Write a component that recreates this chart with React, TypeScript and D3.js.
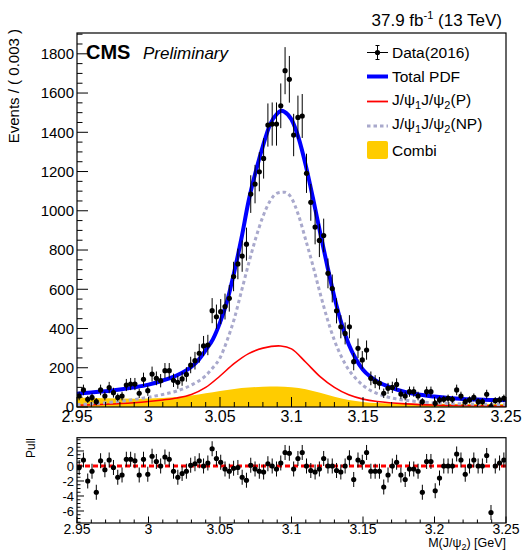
import React from "react";
import * as d3 from "d3";

// ---------- data ----------
const X_MIN = 2.95;
const X_MAX = 3.25;
const BIN_WIDTH = 0.003;

const dataCounts = [
  56, 87, 39, 49, 27, 87, 56, 99, 73, 49,
  56, 112, 117, 117, 70, 141, 83, 168, 146, 134,
  185, 185, 136, 126, 143, 166, 214, 236, 274, 311,
  316, 491, 460, 486, 512, 554, 665, 729, 769, 830,
  1085, 1136, 1199, 1267, 1437, 1442, 1442, 1535, 1714, 1670,
  1386, 1476, 1483, 1191, 1043, 917, 849, 874, 681, 604,
  490, 409, 375, 409, 231, 299, 240, 290, 146, 129,
  121, 70, 95, 100, 115, 66, 56, 78, 78, 56,
  27, 78, 78, 19, 36, 39, 44, 39, 87, 56,
  27, 36, 49, 27, 27, 65, 2, 32, 36, 44,
];

const dataErrors = [
  22, 27, 18, 20, 18, 27, 22, 29, 25, 20,
  22, 31, 31, 31, 24, 34, 26, 38, 35, 34,
  39, 39, 34, 33, 35, 37, 42, 45, 48, 51,
  52, 64, 62, 64, 66, 68, 75, 78, 80, 84,
  96, 98, 100, 103, 110, 110, 110, 114, 120, 119,
  108, 111, 112, 100, 94, 88, 85, 86, 76, 71,
  64, 59, 56, 59, 44, 50, 45, 49, 35, 33,
  32, 24, 28, 29, 31, 24, 22, 26, 26, 22,
  18, 26, 26, 18, 18, 18, 19, 18, 27, 22,
  18, 18, 20, 18, 18, 23, 20, 18, 18, 19,
];

const pullValues = [
  -0.2, 0.8, -2.0, -0.7, -3.5, 0.7, -0.5, 0.8, -0.2, -1.5,
  -1.2, 0.9, 0.9, 0.7, -1.2, 0.9, -1.1, 1.3, 0.6, 0.0,
  1.2, 0.9, -0.7, -1.5, -1.0, -0.7, 0.1, 0.3, 0.7, 0.0,
  0.4, 2.3, 1.0, 0.5, -0.4, -0.7, -0.3, -0.2, -1.5, -1.9,
  0.1, -0.4, -0.7, -0.8, 0.3, 0.0, -0.4, 0.4, 1.8, 1.7,
  -0.4, 1.0, 1.8, 0.0, -0.6, -0.8, -0.4, 1.0, 0.0, 0.0,
  -0.6, -0.8, 0.0, 1.1, -1.8, 0.8, 0.5, 1.8, -0.7, -0.7,
  -0.7, -2.8, -1.2, 0.0, 0.5, -1.2, -1.8, -0.4, -0.4, -0.7,
  -3.5, 0.6, 0.6, -3.3, -1.6, 0.0, 0.0, 0.0, 1.6, 0.8,
  -1.1, 0.0, 0.8, 0.0, 0.0, 1.4, -6.2, 0.0, 0.4, 0.8,
];

// fitted curves: [mass, events]
const totalPdf = [
  [2.95, 68], [2.96, 74], [2.97, 80], [2.98, 89], [2.99, 100], [3.0, 114],
  [3.01, 135], [3.02, 162], [3.03, 205], [3.035, 240], [3.04, 290], [3.045, 345],
  [3.05, 430], [3.055, 540], [3.06, 690], [3.065, 860], [3.07, 1050], [3.075, 1200],
  [3.08, 1330], [3.085, 1440], [3.09, 1495], [3.093, 1510], [3.095, 1505], [3.1, 1465],
  [3.105, 1370], [3.11, 1230], [3.115, 1065], [3.12, 890], [3.125, 720], [3.13, 560],
  [3.135, 425], [3.14, 320], [3.145, 245], [3.15, 190], [3.155, 155], [3.16, 130],
  [3.17, 98], [3.18, 76], [3.19, 62], [3.2, 53], [3.21, 46], [3.22, 41],
  [3.23, 38], [3.24, 36], [3.25, 35],
];

const promptPdf = [
  [2.95, 9], [2.97, 14], [2.99, 22], [3.0, 28], [3.01, 36], [3.02, 46],
  [3.03, 64], [3.04, 100], [3.05, 158], [3.06, 222], [3.07, 272], [3.08, 300],
  [3.0925, 311], [3.1, 296], [3.11, 228], [3.12, 155], [3.13, 100],
  [3.14, 62], [3.15, 40], [3.16, 28], [3.18, 16], [3.2, 10], [3.25, 5],
];

const nonPromptPdf = [
  [2.95, 12], [2.96, 16], [2.97, 22], [2.98, 29], [2.99, 38], [3.0, 50],
  [3.01, 64], [3.02, 82], [3.03, 112], [3.04, 160], [3.045, 200], [3.05, 250],
  [3.055, 340], [3.06, 450], [3.065, 590], [3.07, 730], [3.075, 860], [3.08, 970],
  [3.085, 1050], [3.09, 1090], [3.095, 1095], [3.1, 1065], [3.105, 975], [3.11, 850],
  [3.115, 720], [3.12, 580], [3.125, 450], [3.13, 340], [3.135, 255], [3.14, 190],
  [3.145, 145], [3.15, 110], [3.16, 68], [3.17, 46], [3.18, 34], [3.19, 26],
  [3.2, 21], [3.22, 16], [3.25, 12],
];

const combiPdf = [
  [2.95, 48], [2.97, 44], [2.99, 42], [3.0, 43], [3.01, 46], [3.02, 51],
  [3.03, 59], [3.04, 70], [3.05, 82], [3.06, 92], [3.07, 99], [3.08, 103],
  [3.09, 104], [3.1, 101], [3.11, 91], [3.12, 72], [3.13, 52], [3.14, 36],
  [3.15, 26], [3.16, 20], [3.18, 17], [3.2, 16], [3.25, 15],
];

const xTickValues = [2.95, 3.0, 3.05, 3.1, 3.15, 3.2, 3.25];
const xTickLabels = ["2.95", "3", "3.05", "3.1", "3.15", "3.2", "3.25"];
const yTickValues = [0, 200, 400, 600, 800, 1000, 1200, 1400, 1600, 1800];
const pullTickValues = [-6, -4, -2, 0, 2];

// ---------- layout ----------
const W = 523;
const H = 550;
const L = 77;
const R = 506;
const MAIN_TOP = 33;
const MAIN_BOT = 407;
const PULL_TOP = 437.7;
const PULL_BOT = 523;
const FONT = "'Liberation Sans', Arial, Helvetica, sans-serif";

export default function App() {
  const x = d3.scaleLinear().domain([X_MIN, X_MAX]).range([L, R]);
  const y = d3.scaleLinear().domain([0, 1906]).range([MAIN_BOT, MAIN_TOP]);
  const yp = d3.scaleLinear().domain([-7.6, 3.77]).range([PULL_BOT, PULL_TOP]);

  const centers = dataCounts.map((_, i) => X_MIN + (i + 0.5) * BIN_WIDTH);

  const line = d3
    .line<number[]>()
    .x((d) => x(d[0]))
    .y((d) => y(d[1]))
    .curve(d3.curveMonotoneX);
  const smoothLine = d3
    .line<number[]>()
    .x((d) => x(d[0]))
    .y((d) => y(d[1]))
    .curve(d3.curveCatmullRom.alpha(0.5));
  const area = d3
    .area<number[]>()
    .x((d) => x(d[0]))
    .y0(y(0))
    .y1((d) => y(d[1]))
    .curve(d3.curveMonotoneX);

  const xMinor = d3.range(0, 31).map((k) => X_MIN + k * 0.01);
  const yMinor = d3.range(0, 39).map((k) => k * 50);
  const pMinor = d3.range(-15, 8).map((k) => k * 0.5);

  const legendX1 = 367;
  const legendX2 = 388;
  const legendText = 392;
  const legendRows = [52.5, 76.5, 101.5, 126, 150];
  const lfs = 15.5;
  const sub = 11;

  return (
    <svg
      width={W}
      height={H}
      style={{ position: "absolute", left: 0, top: 0, background: "#fff" }}
      fontFamily={FONT}
    >
      <defs>
        <clipPath id="mainClip">
          <rect x={L} y={MAIN_TOP} width={R - L} height={MAIN_BOT - MAIN_TOP} />
        </clipPath>
        <clipPath id="pullClip">
          <rect x={L} y={PULL_TOP} width={R - L} height={PULL_BOT - PULL_TOP} />
        </clipPath>
      </defs>
      <rect x={0} y={0} width={W} height={H} fill="#fff" />

      {/* header */}
      <text x={502} y={26} fontSize={17} textAnchor="end" fill="#000">
        37.9 fb
        <tspan fontSize={11} dy={-7}>-1</tspan>
        <tspan dy={7}> (13 TeV)</tspan>
      </text>

      {/* main plot */}
      <g clipPath="url(#mainClip)">
        <path d={area(combiPdf) || ""} fill="#ffcc00" stroke="none" />
        <path d={smoothLine(promptPdf) || ""} fill="none" stroke="#ff0000" strokeWidth={1.6} />
        <path
          d={line(nonPromptPdf) || ""}
          fill="none"
          stroke="#a9a9cc"
          strokeWidth={3}
          strokeDasharray="3.5 3"
        />
        <path d={line(totalPdf) || ""} fill="none" stroke="#0000ff" strokeWidth={4} />
        {dataCounts.map((v, i) => (
          <g key={i}>
            <line
              x1={x(centers[i])}
              x2={x(centers[i])}
              y1={y(v - dataErrors[i])}
              y2={y(v + dataErrors[i])}
              stroke="#000"
              strokeWidth={1}
            />
            <circle cx={x(centers[i])} cy={y(v)} r={2.6} fill="#000" />
          </g>
        ))}
      </g>

      {/* main axes ticks */}
      {xMinor.map((t, k) => (
        <line
          key={"xm" + k}
          x1={x(t)}
          x2={x(t)}
          y1={MAIN_BOT}
          y2={MAIN_BOT - (k % 5 === 0 ? 10 : 5)}
          stroke="#000"
          strokeWidth={1}
        />
      ))}
      {yMinor.map((t, k) => (
        <line
          key={"ym" + k}
          x1={L}
          x2={L + (k % 4 === 0 ? 11 : 5.5)}
          y1={y(t)}
          y2={y(t)}
          stroke="#000"
          strokeWidth={1}
        />
      ))}
      <rect
        x={L}
        y={MAIN_TOP}
        width={R - L}
        height={MAIN_BOT - MAIN_TOP}
        fill="none"
        stroke="#000"
        strokeWidth={1.2}
      />
      {xTickValues.map((t, k) => (
        <text key={"xl" + k} x={x(t)} y={422} fontSize={16} textAnchor="middle" fill="#000">
          {xTickLabels[k]}
        </text>
      ))}
      {yTickValues.map((t, k) => (
        <text
          key={"yl" + k}
          x={74}
          y={y(t) + 5.3}
          fontSize={15}
          textAnchor="end"
          fill="#000"
        >
          {t}
        </text>
      ))}
      <text
        transform={`translate(19,29) rotate(-90)`}
        fontSize={15}
        textAnchor="end"
        fill="#000"
      >
        Events / ( 0.003 )
      </text>

      {/* CMS label */}
      <text x={86} y={59} fontSize={20} fontWeight="bold" fill="#000">
        CMS
      </text>
      <text x={143} y={59} fontSize={17} fontStyle="italic" fill="#000">
        Preliminary
      </text>

      {/* legend */}
      <g>
        <line x1={legendX1} x2={legendX2} y1={legendRows[0]} y2={legendRows[0]} stroke="#000" />
        <line x1={377.5} x2={377.5} y1={legendRows[0] - 7} y2={legendRows[0] + 7} stroke="#000" />
        <line x1={375.5} x2={379.5} y1={legendRows[0] - 7} y2={legendRows[0] - 7} stroke="#000" />
        <line x1={375.5} x2={379.5} y1={legendRows[0] + 7} y2={legendRows[0] + 7} stroke="#000" />
        <circle cx={377.5} cy={legendRows[0]} r={2.6} fill="#000" />
        <text x={legendText} y={legendRows[0] + 5.5} fontSize={lfs}>Data(2016)</text>

        <line x1={legendX1} x2={legendX2} y1={legendRows[1]} y2={legendRows[1]} stroke="#0000ff" strokeWidth={4} />
        <text x={legendText} y={legendRows[1] + 5.5} fontSize={lfs}>Total PDF</text>

        <line x1={legendX1} x2={legendX2} y1={legendRows[2]} y2={legendRows[2]} stroke="#ff0000" strokeWidth={1.8} />
        <text x={legendText} y={legendRows[2] + 3} fontSize={lfs}>
          J/ψ<tspan fontSize={sub} dy={4}>1</tspan>
          <tspan dy={-4}>J/ψ</tspan>
          <tspan fontSize={sub} dy={4}>2</tspan>
          <tspan dy={-4}>(P)</tspan>
        </text>

        <line
          x1={legendX1}
          x2={legendX2}
          y1={legendRows[3]}
          y2={legendRows[3]}
          stroke="#a9a9cc"
          strokeWidth={3}
          strokeDasharray="3.5 3"
        />
        <text x={legendText} y={legendRows[3] + 3} fontSize={lfs}>
          J/ψ<tspan fontSize={sub} dy={4}>1</tspan>
          <tspan dy={-4}>J/ψ</tspan>
          <tspan fontSize={sub} dy={4}>2</tspan>
          <tspan dy={-4}>(NP)</tspan>
        </text>

        <rect x={legendX1} y={legendRows[4] - 9} width={legendX2 - legendX1} height={18} rx={2} fill="#ffcc00" />
        <text x={legendText} y={legendRows[4] + 5.5} fontSize={lfs}>Combi</text>
      </g>

      {/* pull panel */}
      <g clipPath="url(#pullClip)">
        <line
          x1={L}
          x2={R}
          y1={yp(0)}
          y2={yp(0)}
          stroke="#ff0000"
          strokeWidth={3}
          strokeDasharray="5 3"
        />
        {pullValues.map((p, i) => (
          <g key={"p" + i}>
            <line
              x1={x(centers[i])}
              x2={x(centers[i])}
              y1={yp(p - 1)}
              y2={yp(p + 1)}
              stroke="#000"
              strokeWidth={1}
            />
            <circle cx={x(centers[i])} cy={yp(p)} r={2.6} fill="#000" />
          </g>
        ))}
      </g>
      {xMinor.map((t, k) => (
        <line
          key={"pxm" + k}
          x1={x(t)}
          x2={x(t)}
          y1={PULL_BOT}
          y2={PULL_BOT - (k % 5 === 0 ? 6.5 : 3.5)}
          stroke="#000"
          strokeWidth={1}
        />
      ))}
      {pMinor.map((t, k) => (
        <line
          key={"pym" + k}
          x1={L}
          x2={L + (Math.abs(t % 2) < 1e-9 ? 7 : 3.5)}
          y1={yp(t)}
          y2={yp(t)}
          stroke="#000"
          strokeWidth={1}
        />
      ))}
      <rect
        x={L}
        y={PULL_TOP}
        width={R - L}
        height={PULL_BOT - PULL_TOP}
        fill="none"
        stroke="#000"
        strokeWidth={1.2}
      />
      {pullTickValues.map((t, k) => (
        <text key={"pl" + k} x={74} y={yp(t) + 4.6} fontSize={13} textAnchor="end">
          {t}
        </text>
      ))}
      {xTickValues.map((t, k) => (
        <text key={"pxl" + k} x={x(t)} y={534} fontSize={14} textAnchor="middle">
          {xTickLabels[k]}
        </text>
      ))}
      <text transform="translate(35,438) rotate(-90)" fontSize={12} textAnchor="end">
        Pull
      </text>
      <text x={506} y={547} fontSize={12.5} textAnchor="end">
        M(J/ψ<tspan fontSize={9} dy={2.5}>2</tspan>
        <tspan dy={-2.5}>) [GeV]</tspan>
      </text>
    </svg>
  );
}
